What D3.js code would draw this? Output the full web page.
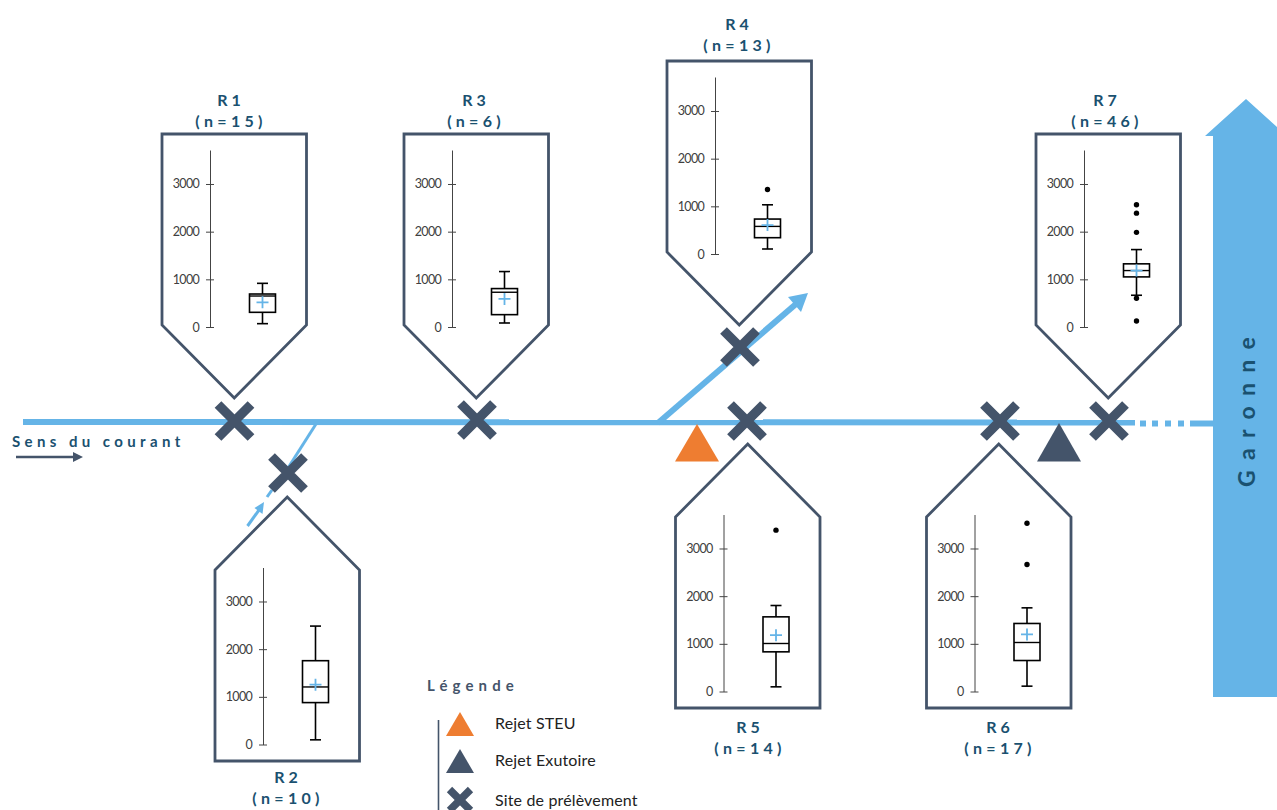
<!DOCTYPE html>
<html>
<head>
<meta charset="utf-8">
<script src="https://cdn.jsdelivr.net/npm/d3@7"></script>
<style>
  html, body { margin: 0; padding: 0; background: #fff; }
  svg { display: block; font-family: Lato, "Open Sans", sans-serif; }
</style>
</head>
<body>
<div id="chart"></div>
<script>
// Data
const sites = ["R 1", "R 2", "R 3", "R 4", "R 5", "R 6", "R 7"];
const counts = [15, 10, 6, 13, 14, 17, 46];
const whiskerLow = [70, 98, 84, 105, 98, 112, 666];
const q1 = [308, 879, 259, 342, 832, 650, 1051];
const median = [650, 1207, 729, 579, 1007, 1028, 1184];
const q3 = [692, 1758, 806, 733, 1566, 1427, 1325];
const whiskerHigh = [916, 2484, 1163, 1032, 1804, 1755, 1624];
const means = [517, 1256, 589, 607, 1182, 1197, 1184];
const outliers = [[], [], [], [1353], [3385], [3530, 2664], [2565, 2388, 1985, 604, 126]];
const tickValues = [0, 1000, 2000, 3000];
const legendLabels = ["Rejet STEU", "Rejet Exutoire", "Site de prélèvement"];

// Layout of the schematic
const width = 1277;
const height = 810;
const blue = "#65b4e7";
const slate = "#44546a";
const titleColor = "#1a5170";
const orange = "#ee7d31";

// left edge, zero line, direction of the tip and title position for each panel
const panels = [
    { x: 162, y0: 327, tip: "down", labelX: 229, labelY: 106 },
    { x: 215, y0: 744.5, tip: "up", labelX: 286, labelY: 783 },
    { x: 404, y0: 327, tip: "down", labelX: 474, labelY: 106 },
    { x: 667, y0: 254, tip: "down", labelX: 737, labelY: 30 },
    { x: 675.5, y0: 691.5, tip: "up", labelX: 748, labelY: 733 },
    { x: 926.5, y0: 691.5, tip: "up", labelX: 998, labelY: 733 },
    { x: 1036, y0: 327, tip: "down", labelX: 1105, labelY: 106 }
];
const crosses = [[234.5, 421], [288, 473], [477, 420], [740, 347], [747, 421], [1000, 421], [1109, 421]];

const svg = d3.select("#chart")
    .append("svg")
    .attr("width", width)
    .attr("height", height);

// Helper for plain polylines
const line = d3.line();

function poly(points, fill, stroke, sw) {
    return svg.append("path")
        .attr("d", line(points) + (fill !== "none" ? "Z" : ""))
        .attr("fill", fill)
        .attr("stroke", stroke || "none")
        .attr("stroke-width", sw || 0);
}

// Garonne arrow
poly([[1213, 697], [1213, 136], [1205, 136], [1246, 99], [1287, 136], [1277, 136], [1277, 697]], blue);
svg.append("text")
    .attr("transform", "translate(1255,487) rotate(-90)")
    .attr("font-size", 23)
    .attr("font-weight", 700)
    .attr("letter-spacing", 10.3)
    .attr("fill", titleColor)
    .text("Garonne");

// Main stream
poly([[23, 422], [1135, 422.5]], "none", blue, 6);
[[1140, 1146], [1152, 1158], [1165, 1171], [1178, 1184], [1190, 1213]].forEach(d => {
    poly([[d[0], 423.5], [d[1], 423.5]], "none", blue, 6);
});

// Branches
poly([[658, 423], [796, 304]], "none", blue, 6);
poly([[808, 293], [801, 312], [788, 297]], blue);
poly([[316, 424], [288, 468]], "none", blue, 3);
poly([[267, 497], [272, 490]], "none", blue, 3);
poly([[247.5, 526], [259, 510]], "none", blue, 3);
poly([[264, 502], [262.5, 514], [254.5, 508]], blue);

// Flow direction label
svg.append("text")
    .attr("x", 12)
    .attr("y", 446.5)
    .attr("font-size", 15)
    .attr("font-weight", 700)
    .attr("letter-spacing", 4.4)
    .attr("fill", titleColor)
    .text("Sens du courant");
poly([[16, 457], [74, 457]], "none", slate, 2.5);
poly([[83, 457], [73, 452], [73, 462]], slate);

// Discharge triangles
poly([[697, 424], [719, 461.5], [675, 461.5]], orange);
poly([[1059, 423], [1081, 461.5], [1037, 461.5]], slate);

// Sampling crosses
function cross(cx, cy, r, sw) {
    svg.append("path")
        .attr("d", `M${cx - r},${cy - r}L${cx + r},${cy + r}M${cx - r},${cy + r}L${cx + r},${cy - r}`)
        .attr("stroke", slate)
        .attr("stroke-width", sw)
        .attr("fill", "none");
}

// One house shaped panel with its boxplot
const panelW = 144.5;
const bodyH = 191;
const tipH = 73;
const plotH = 177;

sites.forEach((site, i) => {
    const p = panels[i];
    const down = p.tip === "down";
    const top = down ? p.y0 - 193 : p.y0 - 174.5;
    const xm = p.x + panelW / 2;

    // Outline
    const outline = down
        ? [[p.x, top], [p.x + panelW, top], [p.x + panelW, top + bodyH], [xm, top + bodyH + tipH], [p.x, top + bodyH]]
        : [[p.x, top + 0], [xm, top - tipH], [p.x + panelW, top], [p.x + panelW, top + bodyH], [p.x, top + bodyH]];
    poly(outline, "#fff", slate, 2.8).attr("stroke-linejoin", "miter");

    // Title
    const g = svg.append("g")
        .attr("text-anchor", "middle")
        .attr("font-size", 16)
        .attr("font-weight", 700)
        .attr("fill", titleColor);
    g.append("text").attr("x", p.labelX).attr("y", p.labelY).text(site);
    g.append("text").attr("x", p.labelX).attr("y", p.labelY + 21)
        .attr("letter-spacing", 0.2)
        .text(`( n = ${String(counts[i]).split("").join(" ")} )`);

    // Scale and axis
    const y = d3.scaleLinear().domain([0, 3713]).range([p.y0, p.y0 - plotH]);
    const axisX = p.x + 48;
    const axis = svg.append("g")
        .attr("transform", `translate(${axisX},0)`)
        .call(d3.axisLeft(y).tickValues(tickValues).tickSize(4).tickSizeOuter(0).tickPadding(7).tickFormat(d3.format("d")));
    axis.select(".domain").attr("stroke", "#444");
    axis.selectAll(".tick line").attr("x1", 4).attr("x2", -4).attr("stroke", "#444");
    axis.selectAll(".tick text")
        .attr("font-family", "Lato, sans-serif")
        .attr("font-size", 12.5)
        .attr("letter-spacing", -0.7)
        .attr("fill", "#404040");

    // Boxplot
    const bx = p.x + 100.5;
    const bw = 26;
    const capW = 11;
    const plot = svg.append("g").attr("stroke", "#000").attr("fill", "none");
    plot.append("line").attr("x1", bx).attr("x2", bx).attr("y1", y(whiskerLow[i])).attr("y2", y(whiskerHigh[i])).attr("stroke-width", 1.6);
    [whiskerLow[i], whiskerHigh[i]].forEach(v => {
        plot.append("line").attr("x1", bx - capW / 2).attr("x2", bx + capW / 2).attr("y1", y(v)).attr("y2", y(v)).attr("stroke-width", 1.6);
    });
    plot.append("rect")
        .attr("x", bx - bw / 2)
        .attr("width", bw)
        .attr("y", y(q3[i]))
        .attr("height", y(q1[i]) - y(q3[i]))
        .attr("fill", "#fff")
        .attr("stroke-width", 1.6);
    plot.append("line").attr("x1", bx - bw / 2).attr("x2", bx + bw / 2).attr("y1", y(median[i])).attr("y2", y(median[i])).attr("stroke-width", 1.4);

    // Mean marker
    const my = y(means[i]);
    svg.append("path")
        .attr("d", `M${bx - 6},${my}H${bx + 6}M${bx},${my - 6}V${my + 6}`)
        .attr("stroke", blue)
        .attr("stroke-width", 1.8)
        .attr("fill", "none");

    // Outliers
    svg.selectAll(null)
        .data(outliers[i])
        .join("circle")
        .attr("cx", bx)
        .attr("cy", d => y(d))
        .attr("r", 2.7)
        .attr("fill", "#000");
});

// Crosses go above the panels and the stream
crosses.forEach(c => cross(c[0], c[1], 16.5, 9.5));

// Legend
svg.append("text")
    .attr("x", 427)
    .attr("y", 691)
    .attr("font-size", 15)
    .attr("font-weight", 700)
    .attr("letter-spacing", 5.1)
    .attr("fill", slate)
    .text("Légende");
poly([[438.5, 720], [438.5, 810]], "none", slate, 1.6);
poly([[460, 712], [474, 736], [446, 736]], orange);
poly([[460, 749], [474, 773], [446, 773]], slate);
cross(460, 800, 10.5, 7.5);
legendLabels.forEach((t, i) => {
    svg.append("text")
        .attr("x", 495)
        .attr("y", [729, 766, 806][i])
        .attr("font-size", 16)
        .attr("letter-spacing", 0.15)
        .attr("fill", "#222")
        .text(t);
});
</script>
</body>
</html>
